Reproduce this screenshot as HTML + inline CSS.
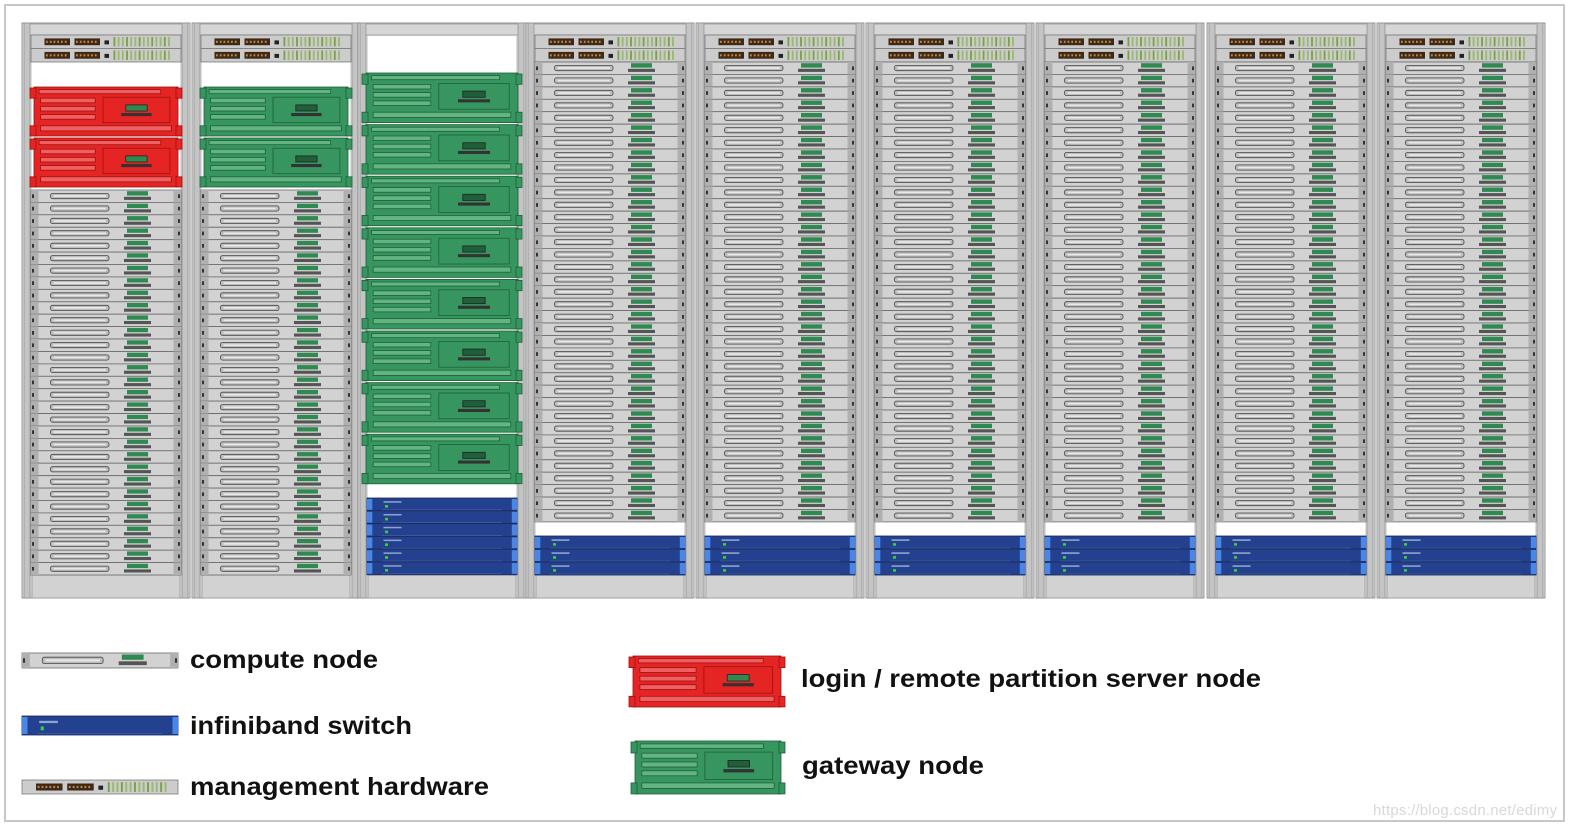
<!DOCTYPE html>
<html><head><meta charset="utf-8"><style>
html,body{margin:0;padding:0;background:#fff;}
svg{display:block;}
</style></head><body>
<svg id="s" width="1570" height="828" viewBox="0 0 1570 828" xmlns="http://www.w3.org/2000/svg">
<rect x="0" y="0" width="1570" height="828" fill="#fff"/>
<rect x="5" y="5" width="1559" height="816" fill="none" stroke="#c8c8c8" stroke-width="2"/>
<g id="racks"></g>
<g id="legend"></g>
<g font-family="'Liberation Sans', Arial, sans-serif" font-weight="bold" fill="#111">
<text x="190" y="668" font-size="25" textLength="188" lengthAdjust="spacingAndGlyphs">compute node</text>
<text x="190" y="734" font-size="25" textLength="222" lengthAdjust="spacingAndGlyphs">infiniband switch</text>
<text x="190" y="795" font-size="25" textLength="299" lengthAdjust="spacingAndGlyphs">management hardware</text>
<text x="801" y="687" font-size="25" textLength="460" lengthAdjust="spacingAndGlyphs">login / remote partition server node</text>
<text x="802" y="774" font-size="25" textLength="182" lengthAdjust="spacingAndGlyphs">gateway node</text>
</g>
<text x="1373" y="815" font-family="'Liberation Sans', Arial, sans-serif" font-size="15" fill="#d8d8d8" textLength="184">https://blog.csdn.net/edimy</text>
</svg>
<script>
var out=[];
function R(x,y,w,h,f,s,extra){out.push('<rect x="'+x.toFixed(1)+'" y="'+y.toFixed(1)+'" width="'+w.toFixed(1)+'" height="'+h.toFixed(1)+'" fill="'+f+'"'+(s?' stroke="'+s+'" stroke-width="0.8"':'')+(extra||'')+'/>');}
function compute(x,y,w,h){
  R(x,y,w,h,'#d2d2d2','#6a6a6a');
  R(x,y,w*0.05,h,'#b0b0b0');R(x+w*0.95,y,w*0.05,h,'#b0b0b0');
  R(x+1,y+h*0.35,2,h*0.3,'#333');R(x+w-3,y+h*0.35,2,h*0.3,'#333');
  R(x+w*0.13,y+h*0.28,w*0.39,h*0.42,'#bdbdbd','#444',' rx="2"');
  R(x+w*0.15,y+h*0.42,w*0.35,h*0.14,'#e8e8e8');
  R(x+w*0.64,y+h*0.1,w*0.14,h*0.35,'#2f8a52');
  R(x+w*0.62,y+h*0.55,w*0.18,h*0.25,'#555');
}
function mgmt(x,y,w,h){
  R(x,y,w,h,'#cccccc','#7a7a7a');
  R(x+w*0.09,y+h*0.25,w*0.17,h*0.5,'#3a2a1a');
  R(x+w*0.29,y+h*0.25,w*0.17,h*0.5,'#3a2a1a');
  for(var i=0;i<6;i++){R(x+w*(0.1+i*0.025),y+h*0.42,w*0.012,h*0.16,'#d08030');R(x+w*(0.3+i*0.025),y+h*0.42,w*0.012,h*0.16,'#d08030');}
  R(x+w*0.49,y+h*0.4,w*0.03,h*0.3,'#222');
  for(var j=0;j<14;j++){R(x+w*(0.55+j*0.028),y+h*0.15,w*0.012,h*0.7,j%3==0?'#7aa040':'#9ab870');}
}
function ib(x,y,w,h){
  R(x,y,w,h,'#23418f','#1a2a5a');
  R(x,y+1,w*0.035,h-2,'#4a86e8');R(x+w*0.965,y+1,w*0.035,h-2,'#4a86e8');
  R(x+w*0.11,y+h*0.25,w*0.12,h*0.12,'#8fa3cc');
  R(x+w*0.12,y+h*0.55,w*0.02,h*0.2,'#3ccf3c');
  R(x+w*0.1,y+h*0.9,w*0.8,0.6,'#4a64a8');
}
function server(x,y,w,h,col){
  var c=col=='r'?['#e52424','#a01010','#f06060']:['#379660','#1d6038','#62b482'];
  R(x+4,y+1,w-8,h-2,c[0],c[1]);
  R(x,y+2,6,h*0.2,c[0],c[1]);R(x,y+h*0.78,6,h*0.2,c[0],c[1]);
  R(x+w-6,y+2,6,h*0.2,c[0],c[1]);R(x+w-6,y+h*0.78,6,h*0.2,c[0],c[1]);
  R(x+w*0.06,y+h*0.07,w*0.8,h*0.08,c[2],c[1]);
  for(var i=0;i<3;i++)R(x+w*0.07,y+h*(0.24+i*0.16),w*0.36,h*0.09,c[2],c[1]);
  R(x+w*0.48,y+h*0.22,w*0.44,h*0.5,c[0],c[1]);
  R(x+w*0.63,y+h*0.37,w*0.14,h*0.12,col=='r'?'#2f8a52':'#1f5f3a','#222');
  R(x+w*0.6,y+h*0.53,w*0.2,h*0.06,'#333');
  R(x+w*0.07,y+h*0.78,w*0.86,h*0.1,c[2],c[1]);
}
function rack(x0,type){
  var w=168;
  R(x0,23,w,575,'#dedede','#808080');
  R(x0+2,23,6,575,'#c4c4c4','#929292');R(x0+w-8,23,6,575,'#c4c4c4','#929292');
  R(x0+8,24,w-16,11,'#d6d6d6','#999');
  R(x0+10,36,w-20,538,'#fff');
  R(x0+10,575,w-20,23,'#d2d2d2','#999');
  var ux=x0+9,uw=w-18;
  if(type==3){
    for(var i=0;i<8;i++)server(x0+4,72+i*51.6,w-8,51.6,'g');
    for(var i=0;i<6;i++)ib(ux,498+i*12.8,uw,12.8);
  } else {
    mgmt(ux,35,uw,13.5);mgmt(ux,48.5,uw,13.5);
    if(type==1||type==2){
      server(x0+8,86,w-16,51,type==1?'r':'g');server(x0+8,137,w-16,51,type==1?'r':'g');
      for(var i=0;i<31;i++)compute(ux,190+i*12.42,uw,12.42);
    } else {
      for(var i=0;i<37;i++)compute(ux,62+i*12.43,uw,12.43);
      for(var i=0;i<3;i++)ib(ux,536+i*13,uw,13);
    }
  }
}
var xs=[22,192,358,526,696,866,1036,1207,1377];
for(var k=0;k<9;k++)rack(xs[k],k==0?1:k==1?2:k==2?3:4);
document.getElementById('racks').innerHTML=out.join('');
out=[];
compute(22,653,156,15);
ib(22,716,156,19);
mgmt(22,780,156,14);
server(629,655,156,53,'r');
server(631,740,154,55,'g');
document.getElementById('legend').innerHTML=out.join('');
</script>
</body></html>
